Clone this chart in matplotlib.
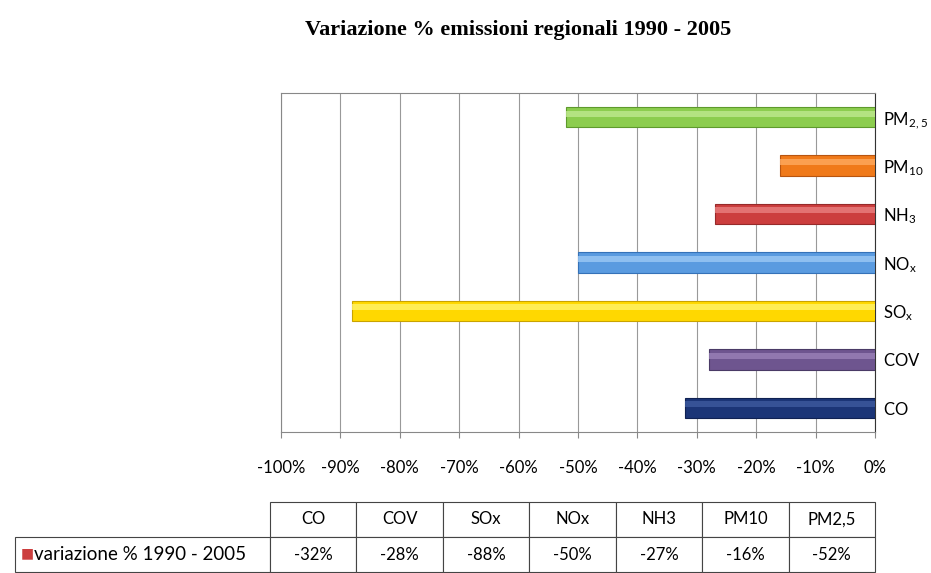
import numpy as np
import matplotlib
matplotlib.use("Agg")
import matplotlib.pyplot as plt

# data
categories = ["CO", "COV", "SOx", "NOx", "NH3", "PM10", "PM2,5"]
tick_names = [r"$\mathregular{CO}$", r"$\mathregular{COV}$", r"$\mathregular{SO_x}$",
              r"$\mathregular{NO_x}$", r"$\mathregular{NH_3}$", r"$\mathregular{PM_{10}}$",
              r"$\mathregular{PM_{2,5}}$"]
values = [-32, -28, -88, -50, -27, -16, -52]
series_name = "variazione % 1990 - 2005"
colors = ["#1b3577", "#6e558f", "#ffd800", "#5a9be0", "#cc3e3e", "#f07a1a", "#8ccd4e"]
highlight = ["#3d5a9e", "#9a82b8", "#fff36a", "#9cc9f5", "#e98080", "#ffaa60", "#bfe98e"]
edges = ["#0f2152", "#4a3a66", "#c9a300", "#3572b8", "#962a2a", "#b85510", "#5e9a2c"]

plt.rcParams["font.family"] = ["Lato", "DejaVu Sans"]

fig = plt.figure(figsize=(9.31, 5.73), dpi=100)
ax = fig.add_axes([281 / 931, 1 - 432 / 573, 594 / 931, 339 / 573])

y = np.arange(len(categories))
h = 0.42
ax.barh(y, values, height=h, color=colors, edgecolor=edges, linewidth=0.8, zorder=3)
# light strip for the glossy look
ax.barh(y + h * 0.18, values, height=h * 0.3, color=highlight, linewidth=0, alpha=0.8, zorder=4)

ax.set_xlim(-100, 0)
ax.set_ylim(-0.5, len(categories) - 0.5)
ax.set_xticks(np.arange(-100, 1, 10))
ax.set_xticklabels([f"{v}%" for v in range(-100, 1, 10)], fontsize=12)
ax.tick_params(axis="x", length=4, color="#888888", pad=16)
ax.yaxis.tick_right()
ax.set_yticks(y)
ax.set_yticklabels(tick_names, fontsize=12)
ax.tick_params(axis="y", length=0, pad=6)
ax.grid(axis="x", color="#999999", linewidth=0.8, zorder=0)
for s in ["top", "left", "bottom"]:
    ax.spines[s].set_color("#888888")
ax.spines["right"].set_color("#333333")

fig.text(518 / 931, 1 - 30 / 573, "Variazione % emissioni regionali 1990 - 2005",
         ha="center", va="center", fontsize=16, fontweight="bold", family="Liberation Serif")

# data table under the chart
tax = fig.add_axes([15 / 931, 1 - 572 / 573, 860 / 931, 70 / 573])
tax.axis("off")
cell_text = [[series_name] + [f"{v}%" for v in values]]
col_w = [255] + [86.4] * len(categories)
tbl = tax.table(cellText=cell_text, colLabels=[""] + categories,
                colWidths=[w / sum(col_w) for w in col_w], bbox=[0, 0, 1, 1],
                cellLoc="center")
tbl.auto_set_font_size(False)
tbl.set_fontsize(12)
for (r, c), cell in tbl.get_celld().items():
    cell.set_edgecolor("#444444")
    cell.set_linewidth(0.8)
    if r == 0 and c == 0:
        cell.visible_edges = ""
    if r == 1 and c == 0:
        cell.get_text().set_ha("left")
        cell.get_text().set_text("    " + series_name)
        cell.get_text().set_fontsize(13.5)
        cell.PAD = 0.0
fig.text(21 / 931, 1 - 553 / 573, "■", color="#cc3e3e", fontsize=10, va="center", ha="left",
         family="DejaVu Sans")

fig.savefig("out.png", dpi=100)
